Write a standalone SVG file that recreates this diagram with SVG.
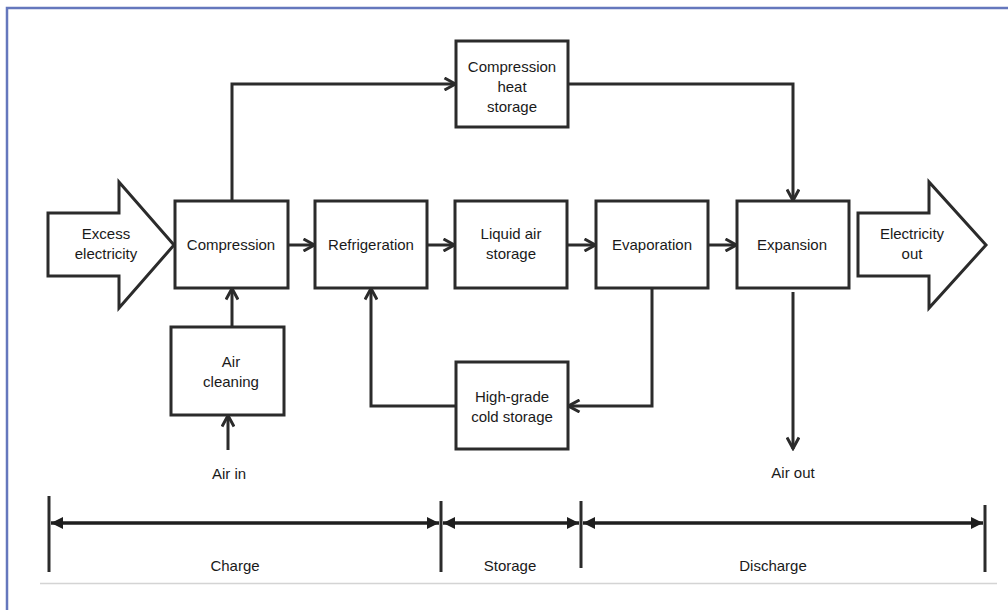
<svg xmlns="http://www.w3.org/2000/svg" width="1008" height="610" viewBox="0 0 1008 610">
<style>
.box{fill:#fff;stroke:#2b2b2b;stroke-width:3}
.big{fill:#fff;stroke:#2b2b2b;stroke-width:3;stroke-linejoin:miter}
.ln{fill:none;stroke:#2b2b2b;stroke-width:3}
.tl{fill:none;stroke:#1e1e1e;stroke-width:3.5}
.tk{fill:none;stroke:#2b2b2b;stroke-width:3}
text{font-family:"Liberation Sans",Arial,sans-serif;font-size:15px;fill:#1a1a1a;text-anchor:middle}
</style>
<defs>
<marker id="open" markerUnits="userSpaceOnUse" viewBox="0 0 15 14" markerWidth="15" markerHeight="14" refX="13.5" refY="7" orient="auto">
<path d="M2,1 L13,7 L2,13" fill="none" stroke="#2b2b2b" stroke-width="3"/>
</marker>
<marker id="solid" markerUnits="userSpaceOnUse" viewBox="0 0 12 12" markerWidth="12" markerHeight="12" refX="12" refY="6" orient="auto-start-reverse">
<path d="M0,0 L12,6 L0,12 z" fill="#1e1e1e"/>
</marker>
</defs>
<rect width="1008" height="610" fill="#fff"/>
<path d="M1008,8 L7,8 L7,610" fill="none" stroke="#6577bd" stroke-width="2.5"/>
<line x1="40" y1="583.5" x2="997" y2="583.5" stroke="#d4d4d4" stroke-width="1.3"/>

<g id="connectors">
<line class="ln" x1="288" y1="245" x2="315" y2="245" marker-end="url(#open)"/>
<line class="ln" x1="427" y1="245" x2="455" y2="245" marker-end="url(#open)"/>
<line class="ln" x1="567" y1="245" x2="596" y2="245" marker-end="url(#open)"/>
<line class="ln" x1="708" y1="245" x2="737" y2="245" marker-end="url(#open)"/>
<polyline class="ln" points="232,201 232,84 456,84" marker-end="url(#open)"/>
<polyline class="ln" points="568,84 793,84 793,201" marker-end="url(#open)"/>
<line class="ln" x1="232" y1="327" x2="232" y2="288" marker-end="url(#open)"/>
<line class="ln" x1="228" y1="450" x2="228" y2="415" marker-end="url(#open)"/>
<polyline class="ln" points="456,406 371,406 371,288" marker-end="url(#open)"/>
<polyline class="ln" points="652,288 652,406 568,406" marker-end="url(#open)"/>
<line class="ln" x1="793" y1="292" x2="793" y2="449" marker-end="url(#open)"/>
</g>

<g id="excess-electricity">
<polygon class="big" points="48,213 119,213 119,182 174,245 119,308 119,276 48,276"/>
<text x="106" y="239">Excess</text>
<text x="106" y="259">electricity</text>
</g>
<g id="compression">
<rect class="box" x="175" y="201" width="113" height="87"/>
<text x="231" y="250">Compression</text>
</g>
<g id="refrigeration">
<rect class="box" x="315" y="201" width="112" height="87"/>
<text x="371" y="250">Refrigeration</text>
</g>
<g id="liquid-air-storage">
<rect class="box" x="455" y="201" width="112" height="87"/>
<text x="511" y="239">Liquid air</text>
<text x="511" y="259">storage</text>
</g>
<g id="evaporation">
<rect class="box" x="596" y="201" width="112" height="87"/>
<text x="652" y="250">Evaporation</text>
</g>
<g id="expansion">
<rect class="box" x="737" y="201" width="112" height="87"/>
<text x="792" y="250">Expansion</text>
</g>
<g id="electricity-out">
<polygon class="big" points="858,213 929,213 929,182 986,245 929,308 929,276 858,276"/>
<text x="912" y="239">Electricity</text>
<text x="912" y="259">out</text>
</g>
<g id="compression-heat-storage">
<rect class="box" x="456" y="41" width="112" height="86"/>
<text x="512" y="72">Compression</text>
<text x="512" y="92">heat</text>
<text x="512" y="112">storage</text>
</g>
<g id="air-cleaning">
<rect class="box" x="171" y="327" width="113" height="88"/>
<text x="231" y="367">Air</text>
<text x="231" y="387">cleaning</text>
</g>
<g id="high-grade-cold-storage">
<rect class="box" x="456" y="362" width="112" height="87"/>
<text x="512" y="402">High-grade</text>
<text x="512" y="422">cold storage</text>
</g>
<g id="air-in"><text x="229" y="479">Air in</text></g>
<g id="air-out"><text x="793" y="478">Air out</text></g>

<g id="timeline">
<line class="tk" x1="49" y1="496" x2="49" y2="572"/>
<line class="tk" x1="441" y1="501" x2="441" y2="572"/>
<line class="tk" x1="581" y1="501" x2="581" y2="568"/>
<line class="tk" x1="985" y1="505" x2="985" y2="572"/>
<line class="tl" x1="51" y1="523" x2="439" y2="523" marker-start="url(#solid)" marker-end="url(#solid)"/>
<line class="tl" x1="443" y1="523" x2="579" y2="523" marker-start="url(#solid)" marker-end="url(#solid)"/>
<line class="tl" x1="583" y1="523" x2="983" y2="523" marker-start="url(#solid)" marker-end="url(#solid)"/>
<text x="235" y="571">Charge</text>
<text x="510" y="571">Storage</text>
<text x="773" y="571">Discharge</text>
</g>
</svg>
